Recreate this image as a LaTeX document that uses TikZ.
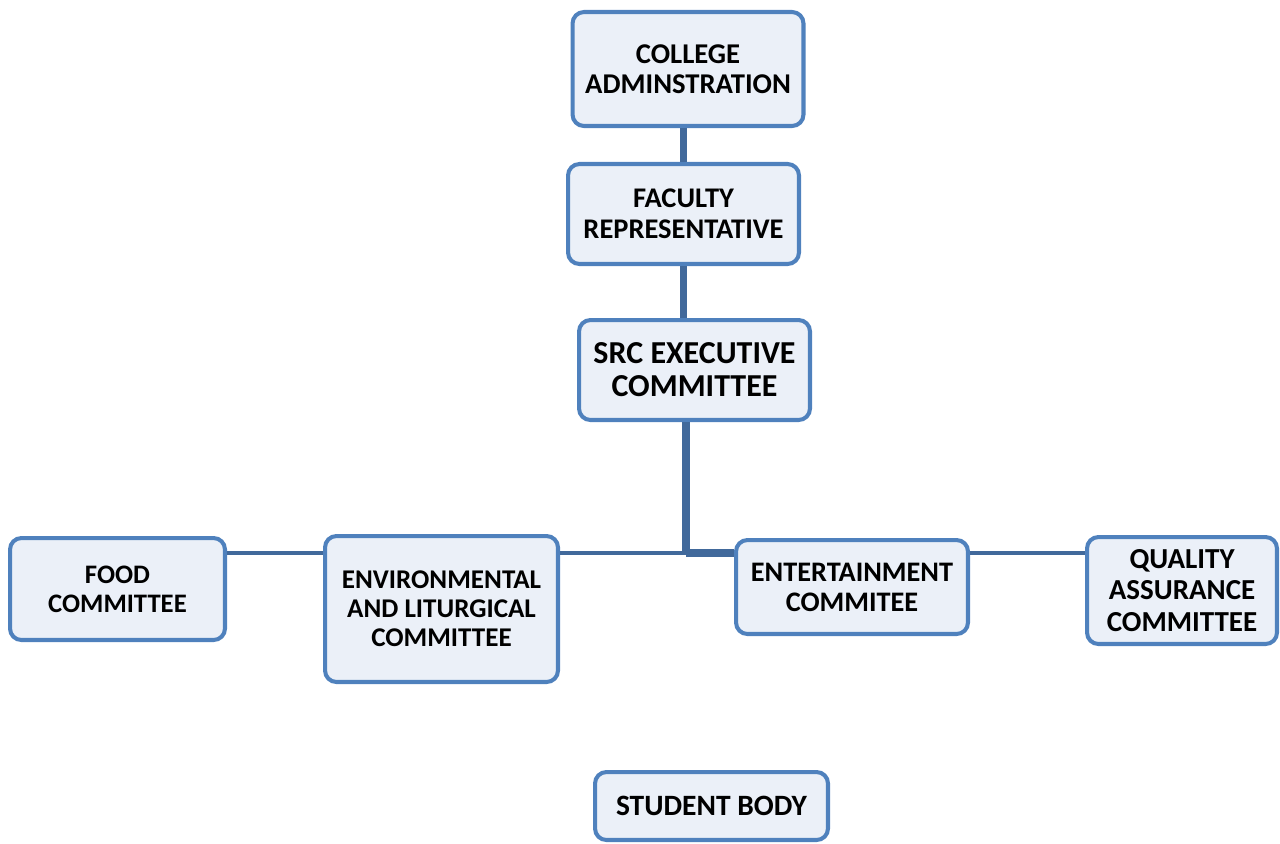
\documentclass[tikz,border=0pt]{standalone}
\usepackage{fontspec}
\setmainfont{Carlito}
\usetikzlibrary{positioning,calc}
\usepackage{xcolor}
\definecolor{BoxLine}{RGB}{79,129,189}
\definecolor{BoxFill}{RGB}{235,240,248}
\definecolor{Link}{RGB}{65,105,155}

\begin{document}
\begin{tikzpicture}[x=0.02cm,y=-0.02cm,
    box/.style={rectangle,rounded corners=6.5pt,draw=BoxLine,fill=BoxFill,
                line width=2.3pt,align=center,inner sep=2pt},
    link/.style={Link,line width=4.4pt},
    thinlink/.style={Link,line width=2.8pt}]
  \useasboundingbox (0,0) rectangle (1280,843);

  \node[box,minimum width=4.62cm,minimum height=2.28cm,
        font=\fontsize{16.3}{17.2}\selectfont\bfseries] (college) at (688,69)
        {COLLEGE\\ADMINSTRATION};
  \node[box,minimum width=4.62cm,minimum height=2.0cm,
        font=\fontsize{16.2}{17.6}\selectfont\bfseries] (faculty) at (683.5,214)
        {FACULTY\\REPRESENTATIVE};
  \node[box,minimum width=4.62cm,minimum height=2.0cm,
        font=\fontsize{18.2}{18.8}\selectfont\bfseries] (src) at (694.5,370)
        {SRC EXECUTIVE\\COMMITTEE};
  \node[box,minimum width=4.3cm,minimum height=2.04cm,
        font=\fontsize{15.2}{16.4}\selectfont\bfseries] (food) at (117.5,589)
        {FOOD\\COMMITTEE};
  \node[box,minimum width=4.66cm,minimum height=2.92cm,
        font=\fontsize{15.4}{16.4}\selectfont\bfseries] (env) at (441.5,609)
        {ENVIRONMENTAL\\AND LITURGICAL\\COMMITTEE};
  \node[box,minimum width=4.64cm,minimum height=1.88cm,
        font=\fontsize{16.1}{17}\selectfont\bfseries] (ent) at (852,587)
        {ENTERTAINMENT\\COMMITEE};
  \node[box,minimum width=3.8cm,minimum height=2.14cm,
        font=\fontsize{16.5}{18}\selectfont\bfseries] (quality) at (1182,590.5)
        {QUALITY\\ASSURANCE\\COMMITTEE};
  \node[box,minimum width=4.66cm,minimum height=1.36cm,
        font=\fontsize{16.8}{18}\selectfont\bfseries] (student) at (711.5,806)
        {STUDENT BODY};

  \coordinate (hub) at (686,553);

  \draw[link] (faculty.north |- college.south) -- (faculty.north);
  \draw[link] (faculty.south) -- (faculty.south |- src.north);
  \draw[link] (src.south -| hub) -- (hub);
  \draw[thinlink] (hub -| env.east) -- (hub);
  \draw[link] (hub) -- (hub -| ent.west);
  \draw[thinlink] (food.east |- hub) -- (env.west |- hub);
  \draw[thinlink] (ent.east |- hub) -- (quality.west |- hub);
\end{tikzpicture}
\end{document}
